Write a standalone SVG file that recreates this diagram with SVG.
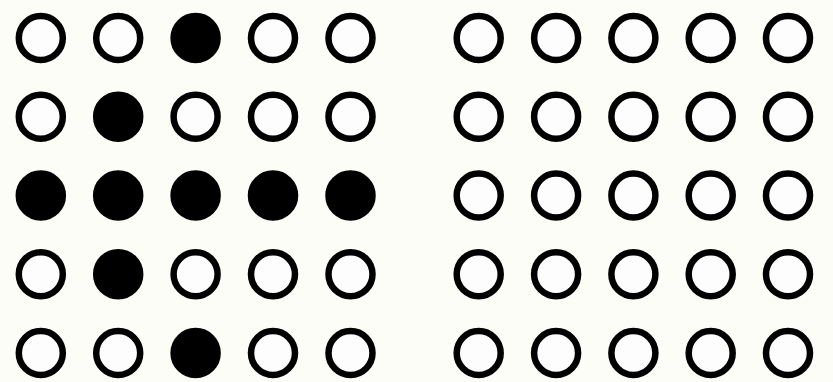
<svg xmlns="http://www.w3.org/2000/svg" width="833" height="382" viewBox="0 0 833 382">
<style>
.o{fill:#fdfdfd;stroke:#000;stroke-width:6.5}
.f{fill:#000;stroke:#000;stroke-width:6.5}
</style>
<rect width="833" height="382" fill="#fcfdf7"/>
<g id="left">
<g id="L11"><circle class="o" cx="40.8" cy="38" r="22"/></g>
<g id="L12"><circle class="o" cx="118.2" cy="38" r="22"/></g>
<g id="L13"><circle class="f" cx="195.6" cy="38" r="22"/></g>
<g id="L14"><circle class="o" cx="273" cy="38" r="22"/></g>
<g id="L15"><circle class="o" cx="350.5" cy="38" r="22"/></g>
<g id="L21"><circle class="o" cx="40.8" cy="116.7" r="22"/></g>
<g id="L22"><circle class="f" cx="118.2" cy="116.7" r="22"/></g>
<g id="L23"><circle class="o" cx="195.6" cy="116.7" r="22"/></g>
<g id="L24"><circle class="o" cx="273" cy="116.7" r="22"/></g>
<g id="L25"><circle class="o" cx="350.5" cy="116.7" r="22"/></g>
<g id="L31"><circle class="f" cx="40.8" cy="195.5" r="22"/></g>
<g id="L32"><circle class="f" cx="118.2" cy="195.5" r="22"/></g>
<g id="L33"><circle class="f" cx="195.6" cy="195.5" r="22"/></g>
<g id="L34"><circle class="f" cx="273" cy="195.5" r="22"/></g>
<g id="L35"><circle class="f" cx="350.5" cy="195.5" r="22"/></g>
<g id="L41"><circle class="o" cx="40.8" cy="274.2" r="22"/></g>
<g id="L42"><circle class="f" cx="118.2" cy="274.2" r="22"/></g>
<g id="L43"><circle class="o" cx="195.6" cy="274.2" r="22"/></g>
<g id="L44"><circle class="o" cx="273" cy="274.2" r="22"/></g>
<g id="L45"><circle class="o" cx="350.5" cy="274.2" r="22"/></g>
<g id="L51"><circle class="o" cx="40.8" cy="353" r="22"/></g>
<g id="L52"><circle class="o" cx="118.2" cy="353" r="22"/></g>
<g id="L53"><circle class="f" cx="195.6" cy="353" r="22"/></g>
<g id="L54"><circle class="o" cx="273" cy="353" r="22"/></g>
<g id="L55"><circle class="o" cx="350.5" cy="353" r="22"/></g>
</g>
<g id="right">
<g id="R11"><circle class="o" cx="478.7" cy="38" r="22"/></g>
<g id="R12"><circle class="o" cx="556.1" cy="38" r="22"/></g>
<g id="R13"><circle class="o" cx="633.4" cy="38" r="22"/></g>
<g id="R14"><circle class="o" cx="710.7" cy="38" r="22"/></g>
<g id="R15"><circle class="o" cx="788" cy="38" r="22"/></g>
<g id="R21"><circle class="o" cx="478.7" cy="116.7" r="22"/></g>
<g id="R22"><circle class="o" cx="556.1" cy="116.7" r="22"/></g>
<g id="R23"><circle class="o" cx="633.4" cy="116.7" r="22"/></g>
<g id="R24"><circle class="o" cx="710.7" cy="116.7" r="22"/></g>
<g id="R25"><circle class="o" cx="788" cy="116.7" r="22"/></g>
<g id="R31"><circle class="o" cx="478.7" cy="195.5" r="22"/></g>
<g id="R32"><circle class="o" cx="556.1" cy="195.5" r="22"/></g>
<g id="R33"><circle class="o" cx="633.4" cy="195.5" r="22"/></g>
<g id="R34"><circle class="o" cx="710.7" cy="195.5" r="22"/></g>
<g id="R35"><circle class="o" cx="788" cy="195.5" r="22"/></g>
<g id="R41"><circle class="o" cx="478.7" cy="274.2" r="22"/></g>
<g id="R42"><circle class="o" cx="556.1" cy="274.2" r="22"/></g>
<g id="R43"><circle class="o" cx="633.4" cy="274.2" r="22"/></g>
<g id="R44"><circle class="o" cx="710.7" cy="274.2" r="22"/></g>
<g id="R45"><circle class="o" cx="788" cy="274.2" r="22"/></g>
<g id="R51"><circle class="o" cx="478.7" cy="353" r="22"/></g>
<g id="R52"><circle class="o" cx="556.1" cy="353" r="22"/></g>
<g id="R53"><circle class="o" cx="633.4" cy="353" r="22"/></g>
<g id="R54"><circle class="o" cx="710.7" cy="353" r="22"/></g>
<g id="R55"><circle class="o" cx="788" cy="353" r="22"/></g>
</g>
<g id="connectors"></g>
</svg>
